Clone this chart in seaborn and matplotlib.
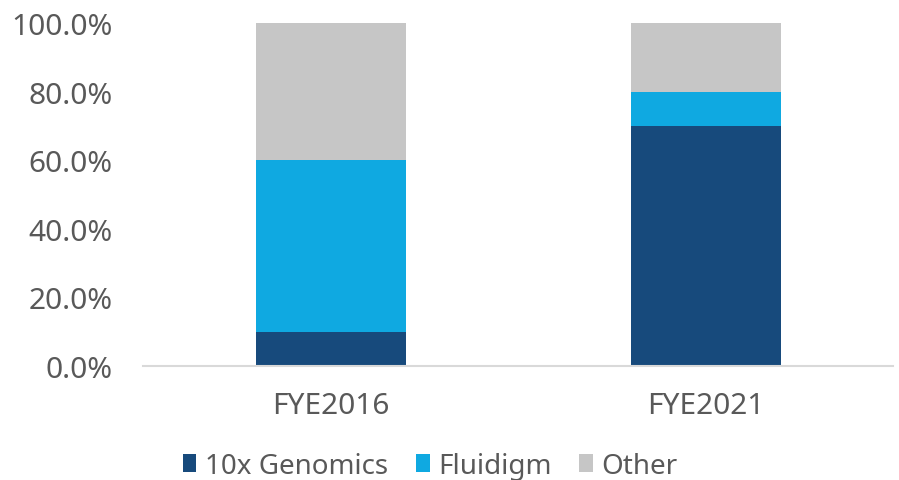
import numpy as np
import pandas as pd
import matplotlib
matplotlib.use("Agg")
import matplotlib.pyplot as plt
import seaborn as sns
from matplotlib.patches import Patch
from matplotlib.ticker import PercentFormatter

categories = ["FYE2016", "FYE2021"]
series_names = ["10x Genomics", "Fluidigm", "Other"]
tenx = [10.0, 70.0]
fluidigm = [50.0, 10.0]
other = [40.0, 20.0]
colors = ["#174A7C", "#0FA9E1", "#C6C6C6"]

sns.set_theme(style="white")
plt.rcParams['font.family'] = ['Noto Sans', 'DejaVu Sans']
txt = "#595959"
fs = 21.5

fig = plt.figure(figsize=(8.99, 4.81), dpi=100)
ax = fig.add_axes([143/899, 1-367/481, (893-143)/899, (367-24)/481])

vals = np.array([tenx, fluidigm, other])
cum = np.cumsum(vals, axis=0)
# draw from top of stack down so lower segments overlay
for i in range(len(series_names) - 1, -1, -1):
    df = pd.DataFrame({"cat": categories, "val": cum[i]})
    sns.barplot(data=df, x="cat", y="val", color=colors[i], width=0.4,
                saturation=1, ax=ax, linewidth=0)

ax.set_ylim(0, 100)
ax.set_xlim(-0.5, 1.5)
ax.set_yticks(np.arange(0, 101, 20))
ax.yaxis.set_major_formatter(PercentFormatter(100, decimals=1))
ax.set_xlabel("")
ax.set_ylabel("")
for s in ["top", "right", "left"]:
    ax.spines[s].set_visible(False)
ax.spines["bottom"].set_color("#D9D9D9")
ax.spines["bottom"].set_linewidth(1.5)
ax.tick_params(axis="y", length=0, pad=22, labelsize=fs, labelcolor=txt)
ax.tick_params(axis="x", length=0, pad=18, labelsize=fs, labelcolor=txt)

handles = [Patch(facecolor=c, edgecolor="none") for c in colors]
fig.legend(handles, series_names, loc="lower center", bbox_to_anchor=(430/899, -0.052),
           ncol=3, frameon=False, fontsize=20, labelcolor=txt,
           handlelength=0.5, handleheight=0.6, handletextpad=0.3, columnspacing=1.0)

fig.savefig("out.png", dpi=100)
